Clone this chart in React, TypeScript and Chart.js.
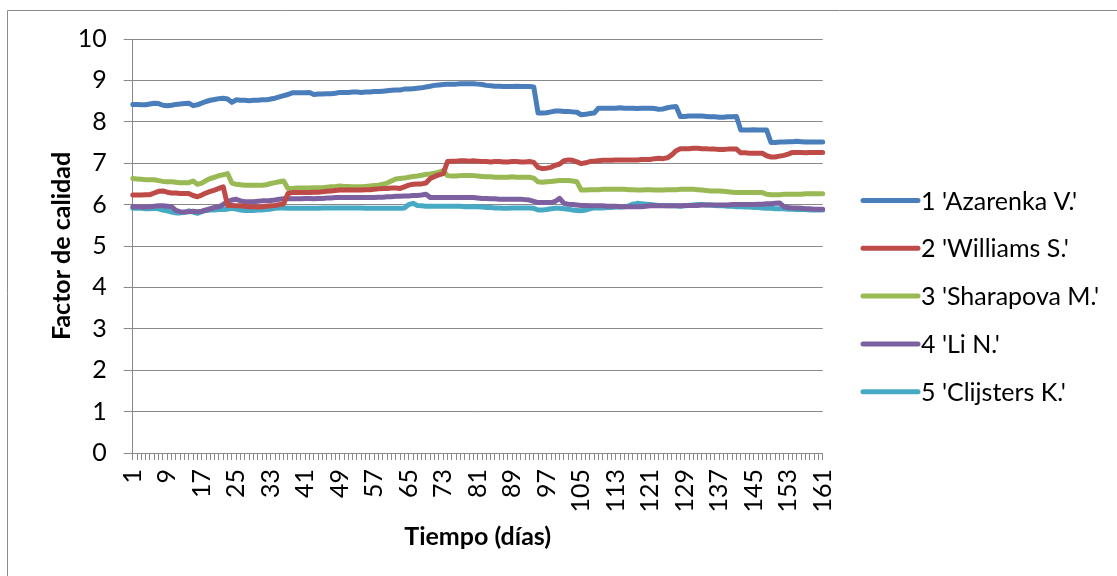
import React, { useEffect, useRef } from "react";
import { Chart, registerables } from "chart.js";

Chart.register(...registerables);

// Day index on the category axis (1..161)
const days: string[] = Array.from({ length: 161 }, (_, i) => String(i + 1));

const seriesNames = [
  "1 'Azarenka V.'",
  "2 'Williams S.'",
  "3 'Sharapova M.'",
  "4 'Li N.'",
  "5 'Clijsters K.'",
];

const seriesColors = ["#4A7EBB", "#BE4B48", "#98B954", "#7D60A0", "#46AAC5"];

const yTicks = [0, 1, 2, 3, 4, 5, 6, 7, 8, 9, 10];

const azarenka = [
  8.42, 8.42, 8.41, 8.41, 8.43, 8.45, 8.44, 8.40, 8.39, 8.40,
  8.42, 8.43, 8.44, 8.45, 8.39, 8.41, 8.45, 8.49, 8.52, 8.54,
  8.56, 8.57, 8.55, 8.47, 8.53, 8.52, 8.52, 8.51, 8.52, 8.52,
  8.53, 8.53, 8.55, 8.57, 8.60, 8.63, 8.66, 8.70, 8.70, 8.70,
  8.70, 8.71, 8.66, 8.67, 8.67, 8.68, 8.68, 8.69, 8.71, 8.71,
  8.71, 8.72, 8.72, 8.71, 8.72, 8.72, 8.73, 8.73, 8.74, 8.75,
  8.76, 8.77, 8.77, 8.79, 8.79, 8.80, 8.81, 8.82, 8.84, 8.86,
  8.88, 8.89, 8.90, 8.91, 8.91, 8.91, 8.92, 8.92, 8.92, 8.92,
  8.91, 8.90, 8.88, 8.87, 8.86, 8.86, 8.85, 8.85, 8.85, 8.86,
  8.85, 8.85, 8.85, 8.84, 8.21, 8.21, 8.22, 8.24, 8.26, 8.26,
  8.25, 8.25, 8.24, 8.23, 8.17, 8.18, 8.20, 8.21, 8.33, 8.33,
  8.33, 8.33, 8.33, 8.34, 8.33, 8.33, 8.33, 8.32, 8.33, 8.33,
  8.33, 8.32, 8.30, 8.31, 8.34, 8.36, 8.37, 8.13, 8.13, 8.14,
  8.14, 8.14, 8.14, 8.13, 8.12, 8.12, 8.11, 8.11, 8.12, 8.12,
  8.13, 7.80, 7.80, 7.80, 7.81, 7.80, 7.80, 7.80, 7.50, 7.50,
  7.51, 7.51, 7.52, 7.52, 7.53, 7.52, 7.51, 7.51, 7.51, 7.51, 7.51,
];

const williams = [
  6.23, 6.23, 6.23, 6.24, 6.24, 6.28, 6.32, 6.33, 6.30, 6.28,
  6.28, 6.27, 6.27, 6.27, 6.22, 6.19, 6.23, 6.28, 6.32, 6.35,
  6.39, 6.43, 5.98, 5.98, 5.97, 5.97, 5.96, 5.95, 5.95, 5.94,
  5.95, 5.96, 5.97, 5.98, 6.00, 6.02, 6.27, 6.29, 6.29, 6.29,
  6.29, 6.29, 6.30, 6.30, 6.31, 6.32, 6.33, 6.34, 6.35, 6.35,
  6.35, 6.35, 6.35, 6.35, 6.36, 6.36, 6.37, 6.38, 6.39, 6.39,
  6.40, 6.40, 6.39, 6.43, 6.47, 6.49, 6.50, 6.50, 6.52, 6.63,
  6.68, 6.72, 6.75, 7.04, 7.05, 7.05, 7.06, 7.06, 7.05, 7.06,
  7.05, 7.04, 7.04, 7.03, 7.04, 7.04, 7.03, 7.03, 7.04, 7.04,
  7.03, 7.03, 7.04, 7.02, 6.90, 6.87, 6.88, 6.90, 6.95, 6.98,
  7.06, 7.08, 7.07, 7.03, 6.99, 7.01, 7.04, 7.05, 7.06, 7.07,
  7.07, 7.07, 7.08, 7.08, 7.08, 7.08, 7.08, 7.08, 7.09, 7.09,
  7.09, 7.11, 7.12, 7.11, 7.13, 7.20, 7.30, 7.35, 7.35, 7.35,
  7.36, 7.36, 7.35, 7.35, 7.34, 7.34, 7.33, 7.33, 7.34, 7.34,
  7.34, 7.25, 7.25, 7.24, 7.24, 7.24, 7.24, 7.18, 7.15, 7.15,
  7.17, 7.19, 7.22, 7.26, 7.26, 7.26, 7.25, 7.26, 7.26, 7.26, 7.26,
];

const sharapova = [
  6.63, 6.62, 6.61, 6.60, 6.60, 6.60, 6.58, 6.56, 6.55, 6.55,
  6.54, 6.53, 6.53, 6.53, 6.57, 6.49, 6.52, 6.58, 6.63, 6.66,
  6.70, 6.72, 6.75, 6.52, 6.49, 6.48, 6.47, 6.47, 6.47, 6.47,
  6.47, 6.48, 6.51, 6.53, 6.55, 6.57, 6.39, 6.39, 6.40, 6.40,
  6.40, 6.40, 6.41, 6.41, 6.41, 6.42, 6.43, 6.43, 6.45, 6.44,
  6.44, 6.43, 6.43, 6.43, 6.44, 6.45, 6.46, 6.47, 6.49, 6.52,
  6.57, 6.62, 6.63, 6.64, 6.66, 6.68, 6.69, 6.71, 6.73, 6.74,
  6.76, 6.78, 6.82, 6.70, 6.69, 6.69, 6.70, 6.70, 6.70, 6.70,
  6.69, 6.68, 6.67, 6.67, 6.66, 6.66, 6.66, 6.66, 6.67, 6.66,
  6.66, 6.66, 6.66, 6.64, 6.55, 6.54, 6.55, 6.56, 6.57, 6.58,
  6.58, 6.58, 6.57, 6.55, 6.35, 6.35, 6.36, 6.36, 6.36, 6.37,
  6.37, 6.37, 6.37, 6.37, 6.37, 6.36, 6.36, 6.35, 6.35, 6.36,
  6.36, 6.35, 6.35, 6.35, 6.36, 6.36, 6.36, 6.37, 6.37, 6.37,
  6.37, 6.36, 6.35, 6.34, 6.33, 6.33, 6.33, 6.32, 6.31, 6.30,
  6.29, 6.29, 6.29, 6.29, 6.29, 6.29, 6.29, 6.25, 6.24, 6.24,
  6.24, 6.25, 6.25, 6.25, 6.25, 6.25, 6.26, 6.26, 6.26, 6.26, 6.26,
];

const liNa = [
  5.95, 5.95, 5.94, 5.94, 5.95, 5.96, 5.97, 5.97, 5.96, 5.95,
  5.86, 5.83, 5.82, 5.83, 5.84, 5.83, 5.84, 5.87, 5.90, 5.93,
  5.95, 6.00, 6.08, 6.11, 6.13, 6.09, 6.07, 6.07, 6.07, 6.08,
  6.09, 6.09, 6.10, 6.11, 6.13, 6.14, 6.14, 6.14, 6.14, 6.14,
  6.15, 6.15, 6.14, 6.15, 6.15, 6.16, 6.16, 6.17, 6.17, 6.17,
  6.17, 6.17, 6.17, 6.17, 6.17, 6.17, 6.17, 6.18, 6.18, 6.19,
  6.19, 6.20, 6.20, 6.21, 6.21, 6.22, 6.22, 6.23, 6.25, 6.17,
  6.17, 6.17, 6.17, 6.17, 6.17, 6.17, 6.17, 6.17, 6.17, 6.17,
  6.16, 6.15, 6.15, 6.14, 6.14, 6.13, 6.13, 6.13, 6.13, 6.13,
  6.13, 6.12, 6.11, 6.08, 6.05, 6.05, 6.05, 6.05, 6.08, 6.15,
  6.03, 6.01, 6.00, 5.99, 5.98, 5.98, 5.97, 5.97, 5.97, 5.97,
  5.96, 5.96, 5.96, 5.95, 5.95, 5.95, 5.95, 5.95, 5.95, 5.96,
  5.97, 5.97, 5.97, 5.97, 5.97, 5.97, 5.97, 5.97, 5.98, 5.98,
  5.98, 5.98, 5.99, 5.99, 5.99, 5.99, 5.99, 5.99, 5.99, 6.00,
  6.00, 6.00, 6.00, 6.00, 6.00, 6.01, 6.01, 6.02, 6.02, 6.03,
  6.04, 5.95, 5.93, 5.92, 5.92, 5.91, 5.90, 5.90, 5.89, 5.89, 5.89,
];

const clijsters = [
  5.91, 5.91, 5.91, 5.90, 5.90, 5.91, 5.90, 5.87, 5.85, 5.82,
  5.80, 5.80, 5.81, 5.85, 5.82, 5.79, 5.83, 5.86, 5.87, 5.87,
  5.88, 5.88, 5.89, 5.91, 5.89, 5.87, 5.86, 5.86, 5.86, 5.87,
  5.87, 5.88, 5.89, 5.91, 5.92, 5.92, 5.91, 5.91, 5.91, 5.91,
  5.91, 5.91, 5.91, 5.91, 5.92, 5.92, 5.92, 5.92, 5.92, 5.92,
  5.92, 5.92, 5.92, 5.92, 5.91, 5.91, 5.91, 5.91, 5.91, 5.91,
  5.91, 5.91, 5.91, 5.92, 6.00, 6.03, 5.98, 5.97, 5.96, 5.96,
  5.96, 5.96, 5.96, 5.96, 5.96, 5.96, 5.96, 5.95, 5.95, 5.95,
  5.95, 5.94, 5.93, 5.93, 5.92, 5.92, 5.91, 5.91, 5.92, 5.92,
  5.92, 5.92, 5.92, 5.91, 5.87, 5.87, 5.88, 5.90, 5.91, 5.91,
  5.90, 5.89, 5.87, 5.86, 5.85, 5.87, 5.90, 5.92, 5.92, 5.92,
  5.93, 5.93, 5.94, 5.94, 5.95, 5.97, 6.01, 6.03, 6.02, 6.01,
  6.00, 5.99, 5.98, 5.98, 5.97, 5.97, 5.97, 5.96, 5.97, 5.98,
  5.99, 6.00, 6.00, 5.99, 5.99, 5.98, 5.97, 5.97, 5.96, 5.96,
  5.95, 5.95, 5.94, 5.94, 5.93, 5.93, 5.92, 5.91, 5.91, 5.90,
  5.90, 5.90, 5.89, 5.89, 5.88, 5.88, 5.88, 5.87, 5.87, 5.87, 5.87,
];

const seriesValues = [azarenka, williams, sharapova, liNa, clijsters];

const FONT = "Lato, 'Open Sans', sans-serif";
const TEXT_SIZE = 25;
const AXIS_GRAY = "#898989";

// Frame line along the top and left edges of the chart area
const framePlugin = {
  id: "frame",
  beforeDraw(chart: Chart) {
    const ctx = chart.ctx;
    ctx.save();
    ctx.fillStyle = "#ffffff";
    ctx.fillRect(0, 0, chart.width, chart.height);
    ctx.strokeStyle = "#8c8c8c";
    ctx.lineWidth = 1;
    ctx.beginPath();
    ctx.moveTo(7.5, chart.height);
    ctx.lineTo(7.5, 10.5);
    ctx.lineTo(chart.width, 10.5);
    ctx.stroke();
    ctx.restore();
  },
};

// Vertical legend on the right: a short thick line followed by the series name
const sideLegendPlugin = {
  id: "sideLegend",
  afterDraw(chart: Chart) {
    const ctx = chart.ctx;
    const lineStart = 863;
    const lineEnd = 918;
    const firstY = 200.5;
    const rowGap = 47.8;
    ctx.save();
    ctx.font = `${TEXT_SIZE}px ${FONT}`;
    ctx.textBaseline = "middle";
    ctx.textAlign = "left";
    chart.data.datasets.forEach((ds: any, i: number) => {
      const y = firstY + i * rowGap;
      ctx.strokeStyle = ds.borderColor;
      ctx.lineWidth = 5;
      ctx.lineCap = "round";
      ctx.beginPath();
      ctx.moveTo(lineStart, y);
      ctx.lineTo(lineEnd, y);
      ctx.stroke();
      ctx.fillStyle = "#000000";
      ctx.fillText(String(ds.label), lineEnd + 3, y + 1);
    });
    ctx.restore();
  },
};

export default function App() {
  const canvasRef = useRef<HTMLCanvasElement | null>(null);

  useEffect(() => {
    const canvas = canvasRef.current;
    if (!canvas) return;

    const chart = new Chart(canvas, {
      type: "line",
      data: {
        labels: days,
        datasets: seriesValues.map((values, i) => ({
          label: seriesNames[i],
          data: values,
          borderColor: seriesColors[i],
          backgroundColor: seriesColors[i],
          borderWidth: 5,
          borderJoinStyle: "round" as const,
          borderCapStyle: "round" as const,
          pointRadius: 0,
          tension: 0,
          fill: false,
        })),
      },
      options: {
        responsive: false,
        animation: false,
        devicePixelRatio: 1,
        layout: {
          padding: { left: 47, top: 39, right: 294.3, bottom: 24 },
        },
        plugins: {
          legend: { display: false },
          tooltip: { enabled: false },
        },
        scales: {
          x: {
            type: "category",
            offset: false,
            grid: {
              display: true,
              drawOnChartArea: false,
              drawTicks: true,
              tickLength: 7,
              color: AXIS_GRAY,
              offset: false,
            },
            border: { display: true, color: AXIS_GRAY, width: 1 },
            ticks: {
              autoSkip: false,
              minRotation: 90,
              maxRotation: 90,
              padding: 9,
              color: "#000000",
              font: { family: FONT, size: TEXT_SIZE },
              callback: function (this: any, value: any, index: number) {
                return index % 8 === 0 ? this.getLabelForValue(value) : "";
              },
            },
            title: {
              display: true,
              text: "Tiempo (días)",
              color: "#000000",
              font: { family: FONT, size: TEXT_SIZE, weight: "bold" },
              padding: { top: 0, bottom: 0 },
            },
            afterFit: (scale: any) => {
              scale.height = 99;
            },
          },
          y: {
            min: 0,
            max: 10,
            afterBuildTicks: (scale: any) => {
              scale.ticks = yTicks.map((v) => ({ value: v }));
            },
            grid: {
              color: AXIS_GRAY,
              tickLength: 9,
              lineWidth: 1,
            },
            border: { display: true, color: AXIS_GRAY, width: 1 },
            ticks: {
              padding: 17,
              color: "#000000",
              font: { family: FONT, size: TEXT_SIZE },
            },
            title: {
              display: true,
              text: "Factor de calidad",
              color: "#000000",
              font: { family: FONT, size: TEXT_SIZE, weight: "bold" },
              padding: { top: 0, bottom: 0 },
            },
            afterFit: (scale: any) => {
              scale.width = 85.7;
            },
          },
        },
      },
      plugins: [framePlugin, sideLegendPlugin],
    });

    return () => {
      chart.destroy();
    };
  }, []);

  return (
    <div style={{ position: "absolute", left: 0, top: 0, width: 1117, height: 576, background: "#ffffff" }}>
      <canvas ref={canvasRef} width={1117} height={576} style={{ display: "block" }} />
    </div>
  );
}
